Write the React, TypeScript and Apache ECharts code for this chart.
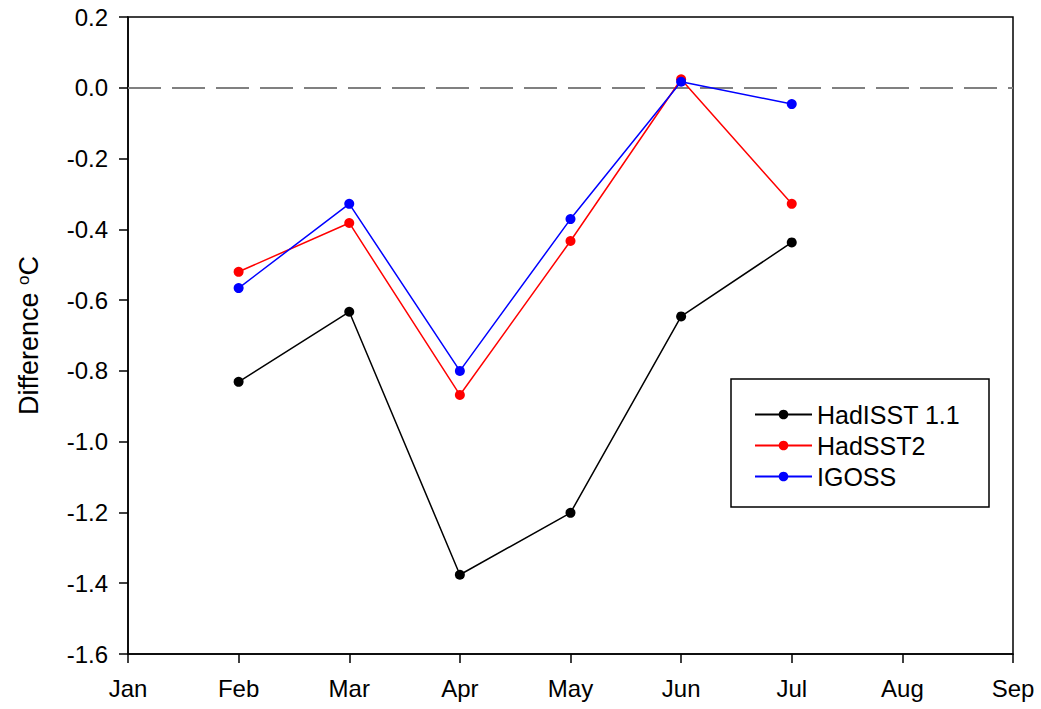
import React, { useEffect, useRef } from "react";
import * as echarts from "echarts";

const months = ["Jan", "Feb", "Mar", "Apr", "May", "Jun", "Jul", "Aug", "Sep"];
const hadISST: (number | null)[] = [null, -0.831, -0.633, -1.376, -1.201, -0.646, -0.437, null, null];
const hadSST2: (number | null)[] = [null, -0.52, -0.382, -0.868, -0.433, 0.024, -0.328, null, null];
const igoss: (number | null)[] = [null, -0.566, -0.328, -0.8, -0.371, 0.017, -0.046, null, null];
const zeroLine: number[] = [0];

const FONT = "Arial, 'Liberation Sans', sans-serif";

export default function App() {
  const ref = useRef<HTMLDivElement>(null);
  useEffect(() => {
    if (!ref.current) return;
    const chart = echarts.init(ref.current, undefined, { renderer: "svg" });
    const mk = (name: string, color: string, data: (number | null)[]) => ({
      name,
      type: "line",
      data: data.map((v) => (v === null ? "-" : v)),
      symbol: "circle",
      symbolSize: 10,
      lineStyle: { color, width: 1.5 },
      itemStyle: { color },
      z: 5,
    });
    chart.setOption({
      animation: false,
      backgroundColor: "#ffffff",
      grid: {
        left: 128,
        right: 28,
        top: 17,
        bottom: 55,
        show: true,
        borderColor: "#000",
        borderWidth: 1.5,
        backgroundColor: "transparent",
      },
      legend: {
        orient: "vertical",
        left: 749,
        top: 397,
        itemWidth: 57,
        itemHeight: 12,
        itemGap: 6,
        textStyle: { fontSize: 25, color: "#000", fontFamily: FONT, padding: [0, 0, 0, 0] },
        data: ["HadISST 1.1", "HadSST2", "IGOSS"],
      },
      graphic: [
        {
          type: "rect",
          shape: { x: 731, y: 379, width: 258, height: 128 },
          style: { fill: "transparent", stroke: "#000", lineWidth: 1.5 },
          z: 10,
        },
      ],
      xAxis: {
        type: "category",
        data: months,
        boundaryGap: false,
        axisLine: { onZero: false, lineStyle: { color: "#000", width: 1.5 } },
        axisTick: { show: true, alignWithLabel: true, length: 9, lineStyle: { color: "#000", width: 1.5 } },
        axisLabel: { fontSize: 24, color: "#000", fontFamily: FONT, margin: 22 },
        splitLine: { show: false },
      },
      yAxis: {
        type: "value",
        min: -1.6,
        max: 0.2,
        interval: 0.2,
        name: "Difference {sup|o}C",
        nameLocation: "middle",
        nameRotate: 90,
        nameGap: 86,
        nameTextStyle: {
          fontSize: 27,
          color: "#000",
          fontFamily: FONT,
          rich: {
            sup: { fontSize: 17, fontFamily: FONT, color: "#000", verticalAlign: "top", padding: [0, 0, 10, 0] },
          },
        },
        axisLine: { show: true, onZero: false, lineStyle: { color: "#000", width: 1.5 } },
        axisTick: { show: true, inside: false, length: 9, lineStyle: { color: "#000", width: 1.5 } },
        axisLabel: {
          fontSize: 24,
          color: "#000",
          fontFamily: FONT,
          margin: 20,
          formatter: (v: number) => v.toFixed(1),
        },
        splitLine: { show: false },
      },
      series: [
        {
          name: "zero",
          type: "line",
          data: [],
          markLine: {
            silent: true,
            symbol: "none",
            label: { show: false },
            lineStyle: { color: "#808080", width: 2, type: [33, 11] },
            data: zeroLine.map((v) => ({ yAxis: v })),
          },
          z: 1,
        },
        mk("HadISST 1.1", "#000000", hadISST),
        mk("HadSST2", "#ff0000", hadSST2),
        mk("IGOSS", "#0000ff", igoss),
      ],
    });
    return () => chart.dispose();
  }, []);
  return (
    <div
      ref={ref}
      style={{ position: "fixed", left: 0, top: 0, width: 1041, height: 709, background: "#fff" }}
    />
  );
}
